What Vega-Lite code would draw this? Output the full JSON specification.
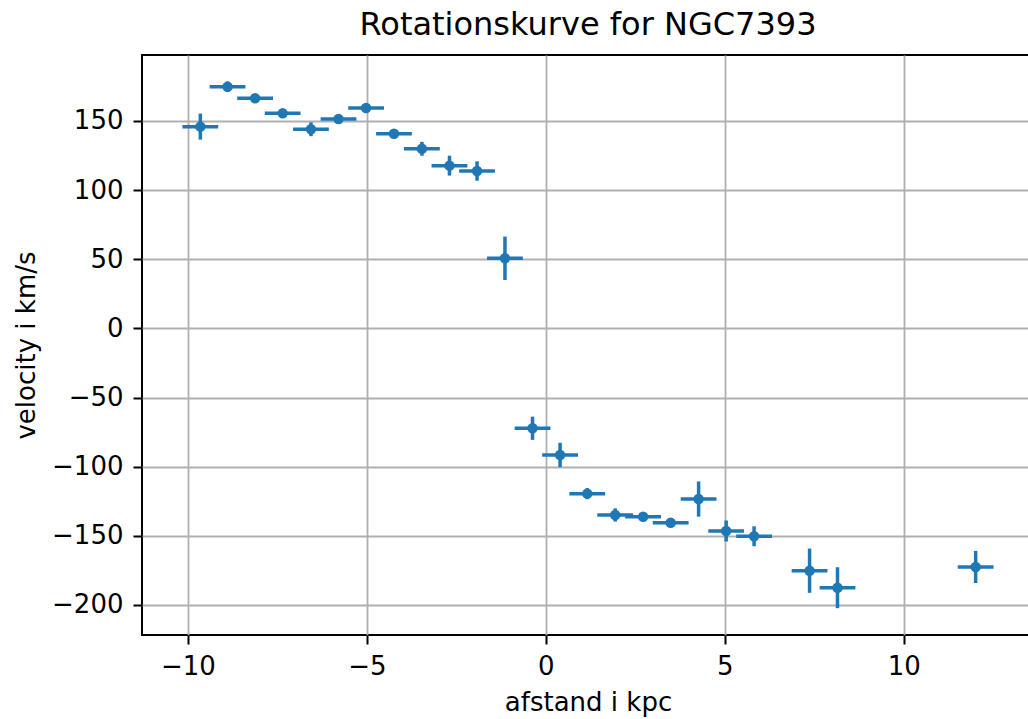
{
  "$schema": "https://vega.github.io/schema/vega-lite/v6.json",
  "width": 892,
  "height": 580,
  "autosize": {"type": "none"},
  "padding": {"left": 142, "top": 55, "right": 0, "bottom": 84},
  "background": "white",
  "title": {
    "text": "Rotationskurve for NGC7393",
    "font": "DejaVu Sans",
    "fontSize": 32,
    "fontWeight": "normal",
    "color": "black",
    "anchor": "middle",
    "baseline": "bottom",
    "offset": -19
  },
  "data": {
    "values": [
      {"r": -9.65, "v": 145.9, "r_lo": -10.15, "r_hi": -9.15, "v_lo": 136.5, "v_hi": 155.3},
      {"r": -8.89, "v": 174.8, "r_lo": -9.39, "r_hi": -8.39, "v_lo": 171.0, "v_hi": 178.6},
      {"r": -8.12, "v": 166.4, "r_lo": -8.62, "r_hi": -7.62, "v_lo": 163.4, "v_hi": 169.4},
      {"r": -7.35, "v": 155.5, "r_lo": -7.85, "r_hi": -6.85, "v_lo": 153.0, "v_hi": 158.0},
      {"r": -6.56, "v": 144.0, "r_lo": -7.06, "r_hi": -6.06, "v_lo": 139.0, "v_hi": 149.0},
      {"r": -5.79, "v": 151.4, "r_lo": -6.29, "r_hi": -5.29, "v_lo": 148.4, "v_hi": 154.4},
      {"r": -5.02, "v": 159.4, "r_lo": -5.52, "r_hi": -4.52, "v_lo": 157.4, "v_hi": 161.4},
      {"r": -4.24, "v": 140.8, "r_lo": -4.74, "r_hi": -3.74, "v_lo": 138.6, "v_hi": 143.0},
      {"r": -3.46, "v": 129.9, "r_lo": -3.96, "r_hi": -2.96, "v_lo": 124.9, "v_hi": 134.9},
      {"r": -2.69, "v": 117.7, "r_lo": -3.19, "r_hi": -2.19, "v_lo": 110.5, "v_hi": 124.9},
      {"r": -1.92, "v": 113.8, "r_lo": -2.42, "r_hi": -1.42, "v_lo": 106.8, "v_hi": 120.8},
      {"r": -1.14, "v": 50.7, "r_lo": -1.64, "r_hi": -0.64, "v_lo": 35.0, "v_hi": 66.4},
      {"r": -0.37, "v": -72.2, "r_lo": -0.87, "r_hi": 0.13, "v_lo": -80.6, "v_hi": -63.8},
      {"r": 0.40, "v": -91.5, "r_lo": -0.10, "r_hi": 0.90, "v_lo": -100.3, "v_hi": -82.7},
      {"r": 1.16, "v": -119.5, "r_lo": 0.66, "r_hi": 1.66, "v_lo": -123.5, "v_hi": -115.5},
      {"r": 1.94, "v": -134.9, "r_lo": 1.44, "r_hi": 2.44, "v_lo": -139.7, "v_hi": -130.1},
      {"r": 2.72, "v": -136.2, "r_lo": 2.22, "r_hi": 3.22, "v_lo": -138.4, "v_hi": -134.0},
      {"r": 3.49, "v": -140.5, "r_lo": 2.99, "r_hi": 3.99, "v_lo": -141.5, "v_hi": -139.5},
      {"r": 4.27, "v": -123.4, "r_lo": 3.77, "r_hi": 4.77, "v_lo": -136.1, "v_hi": -110.7},
      {"r": 5.04, "v": -146.5, "r_lo": 4.54, "r_hi": 5.54, "v_lo": -154.1, "v_hi": -138.9},
      {"r": 5.82, "v": -150.3, "r_lo": 5.32, "r_hi": 6.32, "v_lo": -157.5, "v_hi": -143.1},
      {"r": 7.37, "v": -175.2, "r_lo": 6.87, "r_hi": 7.87, "v_lo": -191.2, "v_hi": -159.2},
      {"r": 8.15, "v": -187.5, "r_lo": 7.65, "r_hi": 8.65, "v_lo": -202.3, "v_hi": -172.7},
      {"r": 12.01, "v": -172.5, "r_lo": 11.51, "r_hi": 12.51, "v_lo": -184.1, "v_hi": -160.9}
    ]
  },
  "layer": [
    {
      "mark": {"type": "rule", "color": "#1f77b4", "strokeWidth": 3.5},
      "encoding": {
        "x": {
          "field": "r_lo", "type": "quantitative",
          "scale": {"domain": [-11.28, 13.64], "nice": false, "zero": false},
          "axis": {"values": [-10, -5, 0, 5, 10], "title": "afstand i kpc"}
        },
        "x2": {"field": "r_hi"},
        "y": {
          "field": "v", "type": "quantitative",
          "scale": {"domain": [-221.7, 197.7], "nice": false, "zero": false},
          "axis": {"values": [-200, -150, -100, -50, 0, 50, 100, 150], "title": "velocity i km/s"}
        }
      }
    },
    {
      "mark": {"type": "rule", "color": "#1f77b4", "strokeWidth": 3.5},
      "encoding": {
        "x": {"field": "r", "type": "quantitative"},
        "y": {"field": "v_lo", "type": "quantitative"},
        "y2": {"field": "v_hi"}
      }
    },
    {
      "mark": {"type": "point", "filled": true, "color": "#1f77b4", "opacity": 1, "size": 110, "shape": "circle"},
      "encoding": {
        "x": {"field": "r", "type": "quantitative"},
        "y": {"field": "v", "type": "quantitative"}
      }
    }
  ],
  "config": {
    "view": {"stroke": "black", "strokeWidth": 2},
    "axis": {
      "domain": false,
      "grid": true,
      "gridColor": "#b0b0b0",
      "gridWidth": 1.8,
      "gridOpacity": 1,
      "ticks": true,
      "tickColor": "black",
      "tickSize": 9,
      "tickWidth": 2,
      "labelFont": "DejaVu Sans",
      "labelFontSize": 26,
      "labelColor": "black",
      "titleFont": "DejaVu Sans",
      "titleFontSize": 26,
      "titleFontWeight": "normal",
      "titleColor": "black",
      "labelFlush": false,
      "labelOverlap": false
    },
    "axisX": {"labelPadding": 9, "titlePadding": 10},
    "axisY": {"labelPadding": 10, "titlePadding": 12}
  }
}
